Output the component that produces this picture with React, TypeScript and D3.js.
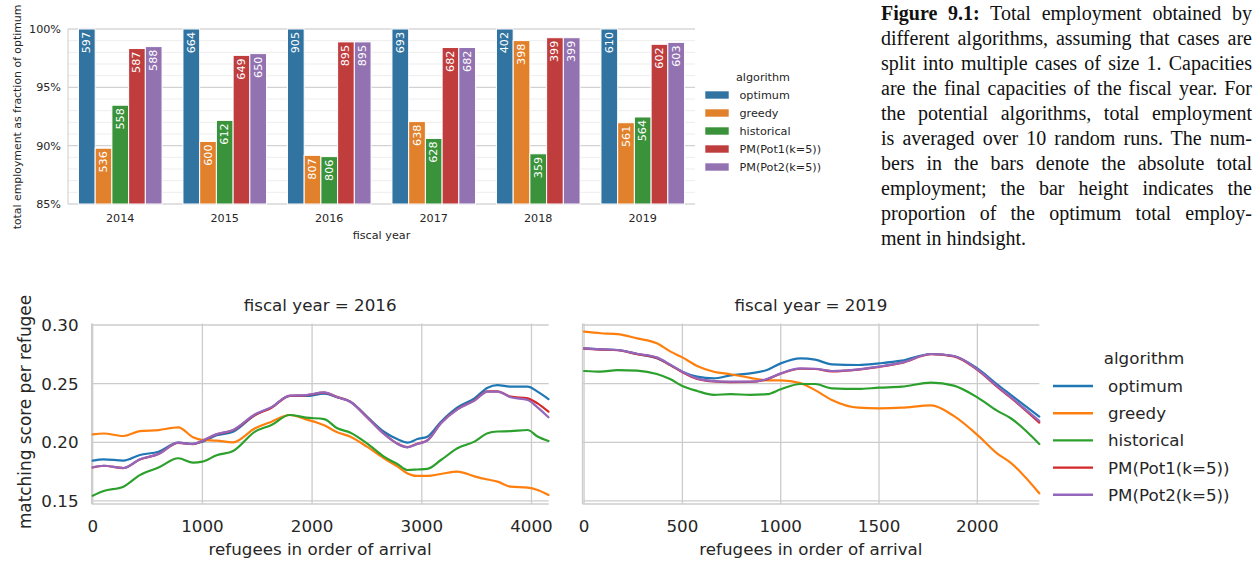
import React, { useEffect, useRef } from "react";
import * as d3 from "d3";

// ---------- Bar chart data ----------
const years = ["2014", "2015", "2016", "2017", "2018", "2019"];
const algorithms = ["optimum", "greedy", "historical", "PM(Pot1(k=5))", "PM(Pot2(k=5))"];
const optimumTotal = [597, 664, 905, 693, 402, 610];
const greedyTotal = [536, 600, 807, 638, 398, 561];
const historicalTotal = [558, 612, 806, 628, 359, 564];
const pot1Total = [587, 649, 895, 682, 399, 602];
const pot2Total = [588, 650, 895, 682, 399, 603];
const barYTicks = [0.85, 0.9, 0.95, 1.0];

// ---------- Line chart data ----------
const x2016 = [0, 100, 280, 430, 600, 780, 915, 1000, 1130, 1280, 1480, 1630, 1795, 1945, 2110, 2230, 2350, 2500, 2655, 2780, 2870, 2960, 3050, 3175, 3325, 3480, 3600, 3690, 3810, 3965, 4055, 4155];
const optimum2016 = [0.1844, 0.1855, 0.1844, 0.1892, 0.192, 0.1997, 0.1986, 0.2006, 0.206, 0.209, 0.2233, 0.2298, 0.2395, 0.2395, 0.2415, 0.2384, 0.2347, 0.222, 0.209, 0.2026, 0.1997, 0.2028, 0.2048, 0.2176, 0.2298, 0.2375, 0.2465, 0.2487, 0.2474, 0.2474, 0.2432, 0.2369];
const greedy2016 = [0.2068, 0.2075, 0.2054, 0.2095, 0.2104, 0.2128, 0.2043, 0.202, 0.2014, 0.2, 0.2119, 0.2176, 0.2233, 0.2196, 0.2145, 0.2085, 0.2048, 0.1963, 0.1864, 0.1793, 0.1735, 0.1713, 0.1713, 0.173, 0.175, 0.171, 0.1683, 0.1665, 0.1622, 0.1614, 0.1594, 0.1551];
const historical2016 = [0.1545, 0.1585, 0.1622, 0.172, 0.1785, 0.1864, 0.1827, 0.1835, 0.189, 0.1926, 0.2091, 0.2148, 0.2233, 0.221, 0.2198, 0.2119, 0.2082, 0.1991, 0.1878, 0.1813, 0.1764, 0.1768, 0.1773, 0.1849, 0.1949, 0.2006, 0.2077, 0.2092, 0.2095, 0.2105, 0.205, 0.2011];
const pot1_2016 = [0.1785, 0.18, 0.178, 0.1853, 0.19, 0.1995, 0.1985, 0.2012, 0.2068, 0.2103, 0.2233, 0.2295, 0.2396, 0.2401, 0.2423, 0.2385, 0.2345, 0.2215, 0.2073, 0.1988, 0.1959, 0.1988, 0.2016, 0.2165, 0.2283, 0.2358, 0.2435, 0.2435, 0.2389, 0.2375, 0.2332, 0.2261];
const pot2_2016 = [0.1787, 0.18, 0.1781, 0.1855, 0.19, 0.1997, 0.1986, 0.2014, 0.207, 0.2105, 0.2239, 0.23, 0.2398, 0.2403, 0.2425, 0.2384, 0.2344, 0.2213, 0.2071, 0.1986, 0.1957, 0.1986, 0.2014, 0.2162, 0.2281, 0.2355, 0.2432, 0.2432, 0.2384, 0.2361, 0.2298, 0.2213];

const x2019 = [0, 85, 170, 270, 370, 440, 500, 575, 660, 745, 845, 930, 1000, 1100, 1175, 1260, 1395, 1500, 1615, 1765, 1880, 2000, 2100, 2170, 2315];
const optimum2019 = [0.2801, 0.2793, 0.2787, 0.2753, 0.2716, 0.2659, 0.2602, 0.256, 0.2545, 0.2571, 0.2588, 0.2616, 0.2673, 0.2716, 0.2705, 0.2665, 0.2659, 0.2673, 0.2696, 0.2753, 0.2736, 0.263, 0.2495, 0.2405, 0.2219];
const greedy2019 = [0.2943, 0.293, 0.2923, 0.2886, 0.2844, 0.2773, 0.2724, 0.2651, 0.2602, 0.258, 0.255, 0.2528, 0.2528, 0.2505, 0.2445, 0.2361, 0.2295, 0.229, 0.2295, 0.2315, 0.2225, 0.2063, 0.1906, 0.1825, 0.1565];
const historical2019 = [0.2608, 0.2602, 0.2616, 0.2611, 0.2582, 0.2537, 0.248, 0.2438, 0.2405, 0.241, 0.2405, 0.241, 0.2452, 0.2497, 0.2497, 0.246, 0.2455, 0.2466, 0.2474, 0.2509, 0.2483, 0.2383, 0.227, 0.2205, 0.1986];
const pot1_2019 = [0.2799, 0.2791, 0.2785, 0.2752, 0.272, 0.2656, 0.2598, 0.2541, 0.2519, 0.2514, 0.2515, 0.2537, 0.2585, 0.2627, 0.2625, 0.2605, 0.262, 0.2643, 0.2677, 0.2751, 0.2733, 0.2618, 0.2475, 0.238, 0.2168];
const pot2_2019 = [0.2801, 0.2793, 0.2787, 0.2755, 0.2724, 0.266, 0.2602, 0.2545, 0.2522, 0.2517, 0.2517, 0.254, 0.2588, 0.263, 0.2627, 0.2608, 0.2622, 0.2645, 0.2679, 0.2753, 0.2736, 0.2622, 0.248, 0.2385, 0.2182];

const lineYTicks = [0.15, 0.2, 0.25, 0.3];
const xTicks2016 = [0, 1000, 2000, 3000, 4000];
const xTicks2019 = [0, 500, 1000, 1500, 2000];

const captionLines = [
  "Total employment obtained by",
  "different algorithms, assuming that cases are",
  "split into multiple cases of size 1. Capacities",
  "are the final capacities of the fiscal year. For",
  "the potential algorithms, total employment",
  "is averaged over 10 random runs. The num-",
  "bers in the bars denote the absolute total",
  "employment; the bar height indicates the",
  "proportion of the optimum total employ-",
  "ment in hindsight.",
];

const barColors = ["#3274a1", "#e1812c", "#3a923a", "#c03d3e", "#9372b2"];
const lineColors = ["#1f77b4", "#ff7f0e", "#2ca02c", "#d62728", "#9467bd"];

const SANS = "'DejaVu Sans', sans-serif";
const GRID = "#cccccc";
const TXT = "#262626";

function BarChart() {
  const totals = [optimumTotal, greedyTotal, historicalTotal, pot1Total, pot2Total];
  const x0 = d3.scaleBand().domain(years).range([68, 695]).paddingInner(0.2).paddingOuter(0.1);
  const x1 = d3.scaleBand().domain(algorithms).range([0, x0.bandwidth()]);
  const y = d3.scaleLinear().domain([0.85, 1.0]).range([204, 29]);
  const minor = d3.range(85, 101).map((d) => d / 100);
  const fs = 11.2;
  return (
    <g>
      {minor.map((t) => (
        <line key={"m" + t} x1={68} x2={695} y1={y(t)} y2={y(t)} stroke="#ebebeb" strokeWidth={0.9} />
      ))}
      {barYTicks.map((t) => (
        <line key={"g" + t} x1={68} x2={695} y1={y(t)} y2={y(t)} stroke={GRID} strokeWidth={1} />
      ))}
      <line x1={68} x2={68} y1={29} y2={204} stroke={GRID} strokeWidth={1} />
      {years.map((yr, i) =>
        algorithms.map((alg, j) => {
          const v = totals[j][i];
          const frac = v / optimumTotal[i];
          const bx = (x0(yr) as number) + (x1(alg) as number);
          const bw = x1.bandwidth();
          const top = y(frac);
          const cx = bx + bw / 2;
          return (
            <g key={yr + alg}>
              <rect x={bx} y={top} width={bw} height={y(0.85) - top} fill={barColors[j]} stroke="#ffffff" strokeWidth={1} />
              <text
                transform={`translate(${cx},${top + 3}) rotate(-90)`}
                textAnchor="end"
                dominantBaseline="central"
                fill="#ffffff"
                fontSize={fs}
                fontFamily={SANS}
              >
                {v}
              </text>
            </g>
          );
        })
      )}
      {barYTicks.map((t) => (
        <text key={"yt" + t} x={61} y={y(t)} dy="0.36em" textAnchor="end" fontSize={fs} fontFamily={SANS} fill={TXT}>
          {d3.format(".0%")(t)}
        </text>
      ))}
      {years.map((yr) => (
        <text key={"xt" + yr} x={(x0(yr) as number) + x0.bandwidth() / 2} y={222} textAnchor="middle" fontSize={fs} fontFamily={SANS} fill={TXT}>
          {yr}
        </text>
      ))}
      <text x={381.5} y={239} textAnchor="middle" fontSize={fs} fontFamily={SANS} fill={TXT}>fiscal year</text>
      <text transform="translate(21,117) rotate(-90)" textAnchor="middle" fontSize={10.9} fontFamily={SANS} fill={TXT}>
        total employment as fraction of optimum
      </text>
      {/* legend */}
      <text x={763} y={80.5} textAnchor="middle" fontSize={fs} fontFamily={SANS} fill={TXT}>algorithm</text>
      {algorithms.map((a, j) => (
        <g key={"lg" + a}>
          <rect x={705} y={91 + j * 18} width={24} height={8} fill={barColors[j]} stroke="#fff" strokeWidth={0.6} />
          <text x={739.5} y={99 + j * 18} fontSize={fs} fontFamily={SANS} fill={TXT}>{a}</text>
        </g>
      ))}
    </g>
  );
}

type PanelProps = {
  xs: number[];
  series: number[][];
  xDomain: [number, number];
  xRange: [number, number];
  ticks: number[];
  title: string;
  showY: boolean;
};

function LinePanel({ xs, series, xDomain, xRange, ticks, title, showY }: PanelProps) {
  const x = d3.scaleLinear().domain(xDomain).range(xRange);
  const y = d3.scaleLinear().domain([0.1474, 0.3013]).range([504, 323.5]);
  const line = d3
    .line<number>()
    .x((_, i) => x(xs[i]))
    .y((d) => y(d))
    .curve(d3.curveMonotoneX);
  const fs = 16.7;
  const cx = (xRange[0] + xRange[1]) / 2;
  return (
    <g>
      {lineYTicks.map((t) => (
        <line key={"hy" + t} x1={xRange[0]} x2={xRange[1]} y1={y(t)} y2={y(t)} stroke={GRID} strokeWidth={1.3} />
      ))}
      {ticks.map((t) => (
        <line key={"vx" + t} x1={x(t)} x2={x(t)} y1={323.5} y2={504} stroke={GRID} strokeWidth={1.3} />
      ))}
      <line x1={xRange[0]} x2={xRange[0]} y1={323.5} y2={504} stroke={GRID} strokeWidth={1.3} />
      <line x1={xRange[0]} x2={xRange[1]} y1={504} y2={504} stroke={GRID} strokeWidth={1.3} />
      {series.map((s, j) => (
        <path key={"s" + j} d={line(s) as string} fill="none" stroke={lineColors[j]} strokeWidth={2.2} strokeLinejoin="round" strokeLinecap="round" />
      ))}
      {ticks.map((t) => (
        <text key={"xl" + t} x={x(t)} y={532} textAnchor="middle" fontSize={fs} fontFamily={SANS} fill={TXT}>
          {t}
        </text>
      ))}
      {showY &&
        lineYTicks.map((t) => (
          <text key={"yl" + t} x={78.5} y={y(t)} dy="0.36em" textAnchor="end" fontSize={fs} fontFamily={SANS} fill={TXT}>
            {d3.format(".2f")(t)}
          </text>
        ))}
      <text x={cx} y={555} textAnchor="middle" fontSize={fs} fontFamily={SANS} fill={TXT}>
        refugees in order of arrival
      </text>
      <text x={cx} y={311} textAnchor="middle" fontSize={fs} fontFamily={SANS} fill={TXT}>
        {title}
      </text>
    </g>
  );
}

function Caption() {
  const ref = useRef<SVGGElement>(null);
  const left = 881;
  const right = 1252;
  useEffect(() => {
    if (!ref.current) return;
    d3.select(ref.current)
      .selectAll<SVGTextElement, unknown>("text.justify")
      .each(function () {
        const el = this;
        el.setAttribute("word-spacing", "0");
        const natural = el.getComputedTextLength();
        const txt = el.textContent || "";
        const spaces = (txt.match(/ /g) || []).length;
        if (spaces > 0) {
          const ws = (right - left - natural) / spaces;
          el.setAttribute("word-spacing", String(ws));
        }
      });
  }, []);
  const fs = 20;
  return (
    <g ref={ref} fontFamily="'Liberation Serif', serif" fontSize={fs} fill="#111">
      {captionLines.map((l, i) => {
        const last = i === captionLines.length - 1;
        return (
          <text key={i} className={last ? "" : "justify"} x={left} y={20 + i * 25}>
            {i === 0 ? (
              <>
                <tspan fontWeight="bold">Figure 9.1:</tspan>
                {" " + l}
              </>
            ) : (
              l
            )}
          </text>
        );
      })}
    </g>
  );
}

export default function App() {
  const s2016 = [optimum2016, greedy2016, historical2016, pot1_2016, pot2_2016];
  const s2019 = [optimum2019, greedy2019, historical2019, pot1_2019, pot2_2019];
  const fs = 16.7;
  return (
    <svg width={1260} height={565} style={{ position: "absolute", left: 0, top: 0, background: "#fff" }}>
      <rect x={0} y={0} width={1260} height={565} fill="#fff" />
      <BarChart />
      <Caption />
      <LinePanel xs={x2016} series={s2016} xDomain={[-10, 4157]} xRange={[91.6, 548.7]} ticks={xTicks2016} title="fiscal year = 2016" showY={true} />
      <LinePanel xs={x2019} series={s2019} xDomain={[-8, 2315]} xRange={[582.5, 1039.3]} ticks={xTicks2019} title="fiscal year = 2019" showY={false} />
      <text transform="translate(31,412) rotate(-90)" textAnchor="middle" fontSize={16.9} fontFamily={SANS} fill={TXT}>
        matching score per refugee
      </text>
      <text x={1144} y={364} textAnchor="middle" fontSize={fs} fontFamily={SANS} fill={TXT}>algorithm</text>
      {algorithms.map((a, j) => (
        <g key={"ll" + a}>
          <line x1={1053} x2={1093} y1={386 + j * 27.2} y2={386 + j * 27.2} stroke={lineColors[j]} strokeWidth={2.4} />
          <text x={1108} y={386 + j * 27.2} dy="0.36em" fontSize={fs} fontFamily={SANS} fill={TXT}>{a}</text>
        </g>
      ))}
    </svg>
  );
}
